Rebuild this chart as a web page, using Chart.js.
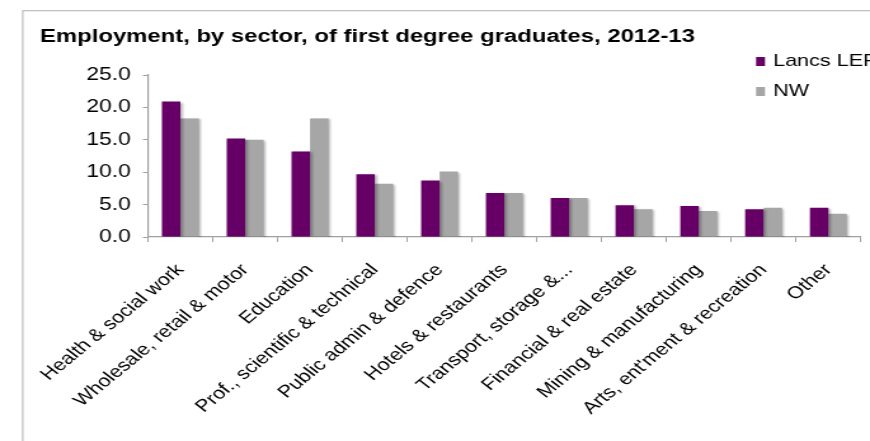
<!DOCTYPE html>
<html>
<head>
<meta charset="utf-8">
<title>Employment by sector</title>
<script src="https://cdn.jsdelivr.net/npm/chart.js@4/dist/chart.umd.min.js"></script>
<style>
  html, body { margin: 0; padding: 0; background: #fff; }
  #sectorChart { display: block; }
</style>
</head>
<body>
<!-- drawn narrow and stretched sideways by the inline style, like the old Excel export -->
<canvas id="sectorChart" width="685" height="441" style="width:870px;height:441px"></canvas>
<script>
const chartTitle = 'Employment, by sector, of first degree graduates, 2012-13';

const sectors = [
    'Health & social work',
    'Wholesale, retail & motor',
    'Education',
    'Prof., scientific & technical',
    'Public admin & defence',
    'Hotels & restaurants',
    'Transport, storage &...',
    'Financial & real estate',
    'Mining & manufacturing',
    "Arts, ent'ment & recreation",
    'Other'
];

const seriesNames = ['Lancs LEP', 'NW'];
const lancsValues = [20.9, 15.2, 13.2, 9.7, 8.7, 6.8, 6.0, 4.9, 4.8, 4.3, 4.5];
const nwValues = [18.3, 15.0, 18.3, 8.2, 10.1, 6.8, 6.0, 4.3, 4.0, 4.5, 3.6];

const yTicks = [0, 5, 10, 15, 20, 25];

const seriesColours = ['#660066', '#a6a6a6'];
const FONT = '"Liberation Sans", Arial, sans-serif';

// frame, title and legend are painted by hand
const decorations = {
    id: 'decorations',
    beforeDraw(chart) {
        const ctx = chart.ctx;
        ctx.save();
        ctx.strokeStyle = '#bdbdbd';
        ctx.lineWidth = 1.2;
        ctx.strokeRect(17.9, 10.7, 1000, 1000);
        ctx.restore();
    },
    beforeDatasetsDraw(chart) {
        const ctx = chart.ctx;
        ctx.save();
        ctx.shadowColor = 'rgba(0, 0, 0, 0.28)';
        ctx.shadowBlur = 2;
        ctx.shadowOffsetX = 1.5;
        ctx.shadowOffsetY = 1;
    },
    afterDatasetsDraw(chart) {
        chart.ctx.restore();
    },
    afterDraw(chart) {
        const ctx = chart.ctx;
        ctx.save();
        ctx.fillStyle = '#000';
        ctx.textBaseline = 'middle';
        ctx.font = 'bold 18.8px ' + FONT;
        ctx.fillText(chartTitle, 31.5, 37);

        ctx.font = '17px ' + FONT;
        chart.data.datasets.forEach(function(ds, i) {
            const y = 61.5 + i * 30;
            ctx.fillStyle = ds.backgroundColor;
            ctx.fillRect(595.3, y - 4.5, 7, 9);
            ctx.fillStyle = '#000';
            ctx.fillText(ds.label, 608.7, y);
        });
        ctx.restore();
    }
};

const ctx = document.getElementById('sectorChart').getContext('2d');

new Chart(ctx, {
    type: 'bar',
    data: {
        labels: sectors,
        datasets: [
            { label: seriesNames[0], data: lancsValues, backgroundColor: seriesColours[0] },
            { label: seriesNames[1], data: nwValues, backgroundColor: seriesColours[1] }
        ]
    },
    options: {
        responsive: false,
        devicePixelRatio: 1,
        animation: false,
        layout: { padding: { top: 75, right: 2.3, bottom: 0, left: 0 } },
        datasets: {
            bar: { categoryPercentage: 0.57, barPercentage: 1.0, borderWidth: 0 }
        },
        plugins: {
            legend: { display: false },
            title: { display: false },
            tooltip: { enabled: false }
        },
        scales: {
            x: {
                grid: { offset: true, drawOnChartArea: false, tickLength: 5, color: '#a0a0a0' },
                border: { color: '#a0a0a0', width: 1.2 },
                ticks: {
                    autoSkip: false,
                    minRotation: 46,
                    maxRotation: 46,
                    padding: 18,
                    color: '#000',
                    font: { family: FONT, size: 17 }
                },
                afterFit(scale) { scale.height = 441 - 237; }
            },
            y: {
                min: yTicks[0],
                max: yTicks[yTicks.length - 1],
                afterBuildTicks(scale) { scale.ticks = yTicks.map(v => ({ value: v })); },
                grid: { drawOnChartArea: false, tickLength: 4, color: '#a0a0a0' },
                border: { color: '#a0a0a0', width: 1.2 },
                ticks: {
                    padding: 9.5,
                    color: '#000',
                    font: { family: FONT, size: 18 },
                    callback: v => v.toFixed(1)
                },
                afterFit(scale) { scale.width = 116.5; }
            }
        }
    },
    plugins: [decorations]
});
</script>
</body>
</html>
